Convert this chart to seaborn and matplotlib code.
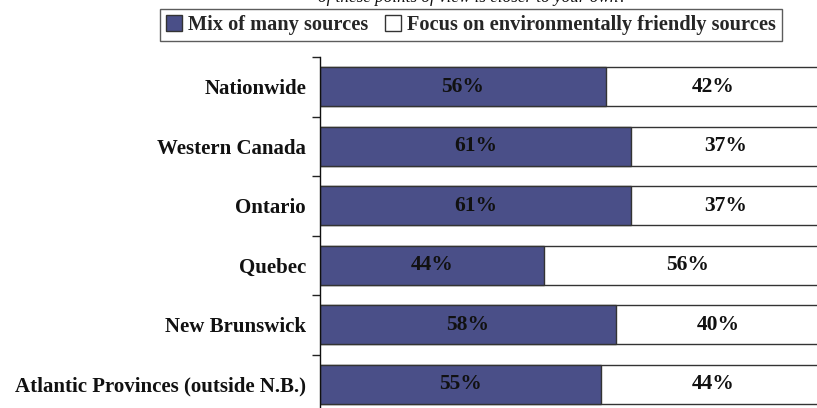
import matplotlib
matplotlib.use("Agg")
import matplotlib.pyplot as plt
import matplotlib.patches as mpatches
import seaborn as sns
import pandas as pd
import numpy as np

regions = ["Nationwide", "Western Canada", "Ontario", "Quebec",
           "New Brunswick", "Atlantic Provinces (outside N.B.)"]
mix_many = [56, 61, 61, 44, 58, 55]
eco_focus = [42, 37, 37, 56, 40, 44]
series_names = ["Mix of many sources", "Focus on environmentally friendly sources"]
question = "of these points of view is closer to your own?"

navy = "#4A4F88"
edge = "#333333"

sns.set_theme(style="white")
plt.rcParams["font.family"] = ["Liberation Serif", "DejaVu Serif"]

df = pd.DataFrame({"region": regions, "mix": mix_many, "eco": eco_focus})
df["total"] = df["mix"] + df["eco"]

fig = plt.figure(figsize=(8.17, 4.08), dpi=100)
ax = fig.add_axes([320 / 817, -6 / 408, 500 / 817, 357 / 408])

# white segment drawn as full length, navy segment on top
sns.barplot(data=df, y="region", x="total", color="white", edgecolor=edge,
            linewidth=1.0, width=0.66, saturation=1, ax=ax)
sns.barplot(data=df, y="region", x="mix", color=navy, edgecolor=edge,
            linewidth=1.0, width=0.66, saturation=1, ax=ax)

for i, (m, e) in enumerate(zip(mix_many, eco_focus)):
    ax.text(m / 2, i, f"{m}%", ha="center", va="center",
            fontsize=15.5, fontweight="bold", color="#111111")
    ax.text(m + e / 2, i, f"{e}%", ha="center", va="center",
            fontsize=15.5, fontweight="bold", color="#111111")

ax.set_xlim(0, 98)
ax.set_ylim(len(regions) - 0.5, -0.5)
ax.set_xlabel("")
ax.set_ylabel("")
ax.set_xticks([])
ax.set_yticks(range(len(regions)))
ax.set_yticklabels(regions, fontsize=15, fontweight="bold", color="#111111")
ax.set_yticks(np.arange(-0.5, len(regions), 1), minor=True)
ax.tick_params(axis="y", which="major", length=0, pad=10)
ax.tick_params(axis="y", which="minor", length=6, width=1, color="#222222",
               direction="out", left=True)
for s in ["top", "right", "bottom"]:
    ax.spines[s].set_visible(False)
ax.spines["left"].set_color("#111111")
ax.spines["left"].set_linewidth(1)

handles = [mpatches.Patch(facecolor=navy, edgecolor=edge, linewidth=1),
           mpatches.Patch(facecolor="white", edgecolor=edge, linewidth=1)]
leg = fig.legend(handles, series_names, loc="center", ncol=2,
                 bbox_to_anchor=(471 / 817, 1 - 25 / 408),
                 frameon=True, fancybox=False, edgecolor=edge,
                 prop={"weight": "bold", "size": 14.7},
                 handlelength=0.8, handleheight=0.8, handletextpad=0.3,
                 columnspacing=0.8, borderpad=0.3, borderaxespad=0)
leg.get_frame().set_linewidth(1)

fig.text(473 / 817, 1 + 2 / 408, question, ha="center", va="center",
         fontsize=12.3, style="italic", color="#111111")

plt.savefig("out.png", dpi=100)
plt.close()
